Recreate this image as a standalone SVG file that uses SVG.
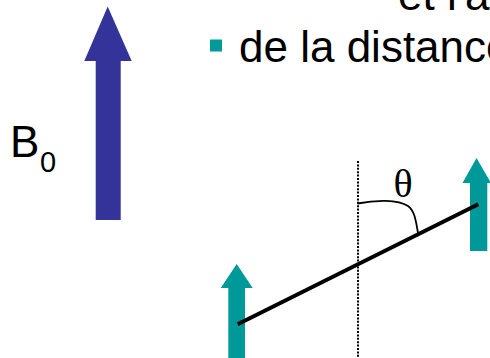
<svg xmlns="http://www.w3.org/2000/svg" width="490" height="358" viewBox="0 0 490 358">
<style>
.t{font-family:"Liberation Sans",Arial,sans-serif;fill:#000}
.teal{fill:#009999}
.conn{fill:none;stroke:#000}
</style>
<rect width="490" height="358" fill="#fff"/>
<g id="text-top">
<text class="t" x="398" y="9.5" font-size="44">et l'axe</text>
<rect class="teal" x="210" y="39.5" width="12" height="12"/>
<text class="t" x="239" y="62" font-size="44">de la distance</text>
</g>
<g id="b0">
<polygon fill="#333399" points="107.7,6.5 131.7,61 120.7,61 120.7,220 95.7,220 95.7,61 84.3,61"/>
<text class="t" x="10" y="157" font-size="44">B</text>
<text class="t" x="40" y="172" font-size="29">0</text>
</g>
<g id="spin-left">
<polygon class="teal" points="236.7,264 252.7,288 245,288 245,358 228.3,358 228.3,288 220.7,288"/>
</g>
<g id="spin-right">
<polygon class="teal" points="476.5,158 491,183 487.3,183 487.3,251 470,251 470,183 462.5,183"/>
</g>
<g id="connectors">
<line class="conn" x1="358" y1="161" x2="358" y2="358" stroke-width="2" stroke-dasharray="2,1.4"/>
<line class="conn" x1="237.7" y1="324.3" x2="478.3" y2="204.3" stroke-width="4"/>
<path class="conn" d="M357.5,203.5 C375,200 398,199 408,206 C415,211 416,222 418,233" stroke-width="1.8"/>
</g>
<g id="theta">
<text x="403" y="197" font-size="40" text-anchor="middle" font-family="'Liberation Serif','Times New Roman',serif">θ</text>
</g>
</svg>
